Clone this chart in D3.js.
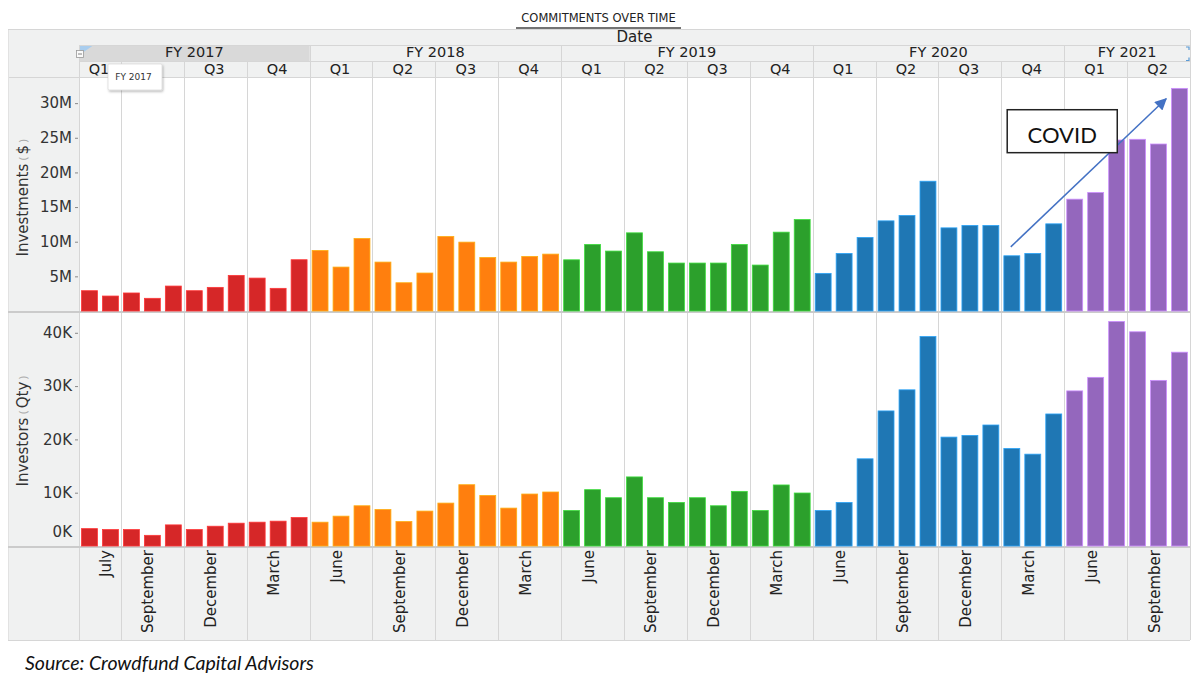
<!DOCTYPE html>
<html>
<head>
<meta charset="utf-8">
<script src="https://cdn.jsdelivr.net/npm/d3@7"></script>
<style>
  body { margin: 0; background: #fff; }
  svg { display: block; }
</style>
</head>
<body>
<svg id="chart" width="1200" height="681"></svg>
<script>
// ---------------- DATA ----------------
const months = [
  "June","July","August","September","October","November","December","January","February","March","April",
  "May","June","July","August","September","October","November","December","January","February","March","April",
  "May","June","July","August","September","October","November","December","January","February","March","April",
  "May","June","July","August","September","October","November","December","January","February","March","April",
  "May","June","July","August","September","October"
];
const fiscalYears = ["FY 2017", "FY 2018", "FY 2019", "FY 2020", "FY 2021"];
const fyMonthCounts = [11, 12, 12, 12, 6];
const quarterLabels = ["Q1","Q2","Q3","Q4","Q1","Q2","Q3","Q4","Q1","Q2","Q3","Q4","Q1","Q2","Q3","Q4","Q1","Q2"];
const quarterMonthCounts = [2,3,3,3, 3,3,3,3, 3,3,3,3, 3,3,3,3, 3,3];
const monthLabelIndex = [1,3,6,9,12,15,18,21,24,27,30,33,36,39,42,45,48,51];

// Investments in $ millions
const investments = [
  2.93, 2.16, 2.60, 1.83, 3.60, 2.93, 3.41, 5.14, 4.75, 3.27, 7.40,
  8.74, 6.34, 10.47, 7.06, 4.08, 5.48, 10.76, 9.94, 7.73, 7.06, 7.88, 8.21,
  7.39, 9.61, 8.65, 11.28, 8.55, 6.92, 6.92, 6.92, 9.61, 6.63, 11.38, 13.20,
  5.43, 8.31, 10.62, 13.01, 13.79, 18.73, 12.00, 12.35, 12.35, 7.97, 8.31, 12.58,
  16.14, 17.10, 24.68, 24.78, 24.10, 32.13
];
// Investors in thousands
const investors = [
  3.26, 3.08, 3.08, 2.00, 3.96, 3.08, 3.71, 4.28, 4.47, 4.66, 5.34,
  4.47, 5.60, 7.55, 6.85, 4.59, 6.55, 8.05, 11.50, 9.49, 7.11, 9.75, 10.13,
  6.66, 10.57, 9.06, 12.96, 9.06, 8.17, 9.06, 7.55, 10.25, 6.66, 11.45, 9.94,
  6.66, 8.17, 16.36, 25.34, 29.30, 39.30, 20.43, 20.75, 22.70, 18.30, 17.23, 24.77,
  29.10, 31.64, 42.13, 40.19, 31.07, 36.36
];
const investmentTicks = [5, 10, 15, 20, 25, 30];
const investorTicks = [0, 10, 20, 30, 40];
const fyColors = ["#d62728", "#ff7f0e", "#2ca02c", "#1f77b4", "#9467bd"];

// ---------------- SETUP ----------------
const FONT = "'DejaVu Sans', Verdana, sans-serif";
const svg = d3.select("#chart");
const n = months.length;
const L = 79, R = 1190, LEFT = 8;
const HDR_TOP = 29.5, HDR_FY = 45.5, HDR_Q = 61.5, PLOT_TOP = 77.5;
const TOP_BASE = 311, BOT_TOP = 312, BOT_BASE = 546, LABEL_BOTTOM = 640;

const x = d3.scaleBand().domain(d3.range(n)).range([L, R]).paddingInner(0.24).paddingOuter(0.12);
const xl = d3.scaleLinear().domain([0, n]).range([L, R]);
const yTop = d3.scaleLinear().domain([0, 33.7]).range([TOP_BASE, PLOT_TOP]);
const yBot = d3.scaleLinear().domain([0, 43.9]).range([BOT_BASE, BOT_TOP]);

const fyIndex = [];
fyMonthCounts.forEach((c, i) => { for (let k = 0; k < c; k++) fyIndex.push(i); });
const fyBounds = Array.from(d3.cumsum([0, ...fyMonthCounts]));
const qBounds = Array.from(d3.cumsum([0, ...quarterMonthCounts]));

const defs = svg.append("defs");
const f = defs.append("filter").attr("id", "shadow").attr("x", "-20%").attr("y", "-20%").attr("width", "150%").attr("height", "160%");
f.append("feDropShadow").attr("dx", 1).attr("dy", 1.5).attr("stdDeviation", 1.3).attr("flood-color", "#000").attr("flood-opacity", 0.28);
defs.append("marker").attr("id", "arrow").attr("viewBox", "0 0 10 10")
  .attr("refX", 9).attr("refY", 5).attr("markerWidth", 15).attr("markerHeight", 12)
  .attr("markerUnits", "userSpaceOnUse").attr("orient", "auto")
  .append("path").attr("d", "M0,0 L10,5 L0,10 z").attr("fill", "#4472c4");

// ---------------- BACKGROUNDS ----------------
const BG = "#f0f1f1", LINE = "#d6d6d6";
svg.append("rect").attr("x", LEFT).attr("y", HDR_TOP).attr("width", R - LEFT).attr("height", PLOT_TOP - HDR_TOP).attr("fill", BG);
svg.append("rect").attr("x", LEFT).attr("y", PLOT_TOP).attr("width", L - LEFT).attr("height", LABEL_BOTTOM - PLOT_TOP).attr("fill", BG);
svg.append("rect").attr("x", L).attr("y", BOT_BASE).attr("width", R - L).attr("height", LABEL_BOTTOM - BOT_BASE).attr("fill", BG);

// FY 2017 highlighted header cell
svg.append("rect").attr("x", xl(fyBounds[0])).attr("y", HDR_FY).attr("width", xl(fyBounds[1]) - xl(fyBounds[0]))
  .attr("height", HDR_Q - HDR_FY).attr("fill", "#d9d9d9");
svg.append("path").attr("d", `M${L},${HDR_FY} L${L + 14},${HDR_FY} L${L + 4},${HDR_FY + 7} L${L},${HDR_FY + 7}Z`).attr("fill", "#a9cdee");

// ---------------- GRID LINES ----------------
const g = svg.append("g").attr("stroke", LINE).attr("stroke-width", 1).attr("shape-rendering", "crispEdges");
const hline = (y, x0, x1, c, w) => g.append("line").attr("x1", x0).attr("x2", x1).attr("y1", y).attr("y2", y).attr("stroke", c || LINE).attr("stroke-width", w || 1);
const vline = (xx, y0, y1, c) => g.append("line").attr("x1", xx).attr("x2", xx).attr("y1", y0).attr("y2", y1).attr("stroke", c || LINE);
hline(HDR_TOP, LEFT, R);
hline(HDR_FY, L, R);
hline(HDR_Q, L, R);
hline(PLOT_TOP, LEFT, R);
hline(LABEL_BOTTOM, LEFT, R);
vline(LEFT, HDR_TOP, LABEL_BOTTOM, "#e2e2e2");
vline(L, HDR_FY, LABEL_BOTTOM);
vline(R, HDR_TOP, LABEL_BOTTOM);
fyBounds.slice(1, -1).forEach(b => vline(Math.round(xl(b)) + 0.5, HDR_FY, HDR_Q));
qBounds.slice(1, -1).forEach(b => vline(Math.round(xl(b)) + 0.5, HDR_Q, LABEL_BOTTOM));

// ---------------- BARS ----------------
const barStroke = i => d3.color(fyColors[fyIndex[i]]).brighter(0.9);
svg.append("g").selectAll("rect").data(investments).join("rect")
  .attr("x", (d, i) => x(i)).attr("width", x.bandwidth())
  .attr("y", d => yTop(d)).attr("height", d => yTop(0) - yTop(d))
  .attr("fill", (d, i) => fyColors[fyIndex[i]])
  .attr("stroke", (d, i) => barStroke(i)).attr("stroke-width", 0.8);
svg.append("g").selectAll("rect").data(investors).join("rect")
  .attr("x", (d, i) => x(i)).attr("width", x.bandwidth())
  .attr("y", d => yBot(d)).attr("height", d => yBot(0) - yBot(d))
  .attr("fill", (d, i) => fyColors[fyIndex[i]])
  .attr("stroke", (d, i) => barStroke(i)).attr("stroke-width", 0.8);

// panel separators
hline(TOP_BASE + 0.5, LEFT, R, "#cbcbcb", 2);
hline(BOT_BASE + 0.5, LEFT, R, "#cbcbcb", 2);

// ---------------- AXES ----------------
function styleAxis(sel) {
  sel.select(".domain").remove();
  sel.selectAll("text").attr("font-family", FONT).attr("font-size", 15).attr("fill", "#333");
  sel.selectAll(".tick line").attr("stroke", "#888");
}
const axTop = svg.append("g").attr("transform", `translate(${L - 1},0)`)
  .call(d3.axisLeft(yTop).tickValues(investmentTicks).tickFormat(d => d + "M").tickSize(3).tickPadding(3));
styleAxis(axTop);
const axBot = svg.append("g").attr("transform", `translate(${L - 1},0)`)
  .call(d3.axisLeft(yBot).tickValues(investorTicks).tickFormat(d => d + "K").tickSize(3).tickPadding(3));
styleAxis(axBot);
axBot.selectAll(".tick").filter(d => d === 0).each(function () {
  d3.select(this).select("line").remove();
  d3.select(this).select("text").attr("y", -14.5).attr("x", -6);
});

// axis titles
function axisTitle(yStart, main, unit) {
  const t = svg.append("text").attr("transform", `translate(27.5,${yStart}) rotate(-90)`)
    .attr("font-family", FONT).attr("font-size", 15).attr("fill", "#333");
  t.append("tspan").text(main);
  t.append("tspan").attr("font-size", 11).attr("fill", "#aaa").attr("dx", 3).attr("dy", -1).text("(");
  t.append("tspan").attr("dx", 2).attr("dy", 1).text(unit);
  t.append("tspan").attr("font-size", 11).attr("fill", "#aaa").attr("dx", 2).attr("dy", -1).text(")");
}
axisTitle(256.5, "Investments", "$");
axisTitle(486.5, "Investors", "Qty");

// ---------------- HEADERS ----------------
svg.append("text").attr("x", 598.5).attr("y", 22).attr("text-anchor", "middle")
  .attr("font-family", FONT).attr("font-size", 11.5).attr("fill", "#222").text("COMMITMENTS OVER TIME");
svg.append("line").attr("x1", 516).attr("x2", 681).attr("y1", 28).attr("y2", 28).attr("stroke", "#444").attr("stroke-width", 1.3);

svg.append("text").attr("x", (L + R) / 2).attr("y", 41.5).attr("text-anchor", "middle")
  .attr("font-family", FONT).attr("font-size", 15).attr("fill", "#222").text("Date");

svg.append("g").selectAll("text").data(fiscalYears).join("text")
  .attr("x", (d, i) => (xl(fyBounds[i]) + xl(fyBounds[i + 1])) / 2).attr("y", 57)
  .attr("text-anchor", "middle").attr("font-family", FONT).attr("font-size", 14.5).attr("fill", "#222").text(d => d);

svg.append("g").selectAll("text").data(quarterLabels).join("text")
  .attr("x", (d, i) => (xl(qBounds[i]) + xl(qBounds[i + 1])) / 2 - 1).attr("y", 73.5)
  .attr("text-anchor", "middle").attr("font-family", FONT).attr("font-size", 14.5).attr("fill", "#222").text(d => d);

// collapse icon
svg.append("rect").attr("x", 76.5).attr("y", 50.5).attr("width", 7).attr("height", 7).attr("fill", "#fafafa").attr("stroke", "#999").attr("stroke-width", 0.8);
svg.append("line").attr("x1", 78).attr("x2", 82).attr("y1", 54).attr("y2", 54).attr("stroke", "#666").attr("stroke-width", 0.8);
// selection corners on FY 2021 cell
svg.append("path").attr("d", `M${R - 4},${HDR_FY + 1.5} L${R - 1},${HDR_FY + 1.5} L${R - 1},${HDR_FY + 4.5} M${R - 4},${HDR_Q - 1} L${R - 1},${HDR_Q - 1} L${R - 1},${HDR_Q - 4}`)
  .attr("fill", "none").attr("stroke", "#5b9bd5").attr("stroke-width", 1.2);

// tooltip
svg.append("rect").attr("x", 108).attr("y", 64).attr("width", 54).attr("height", 26).attr("rx", 1)
  .attr("fill", "#fff").attr("stroke", "#d0d0d0").attr("stroke-width", 0.6).attr("filter", "url(#shadow)");
svg.append("text").attr("x", 133.5).attr("y", 80).attr("text-anchor", "middle")
  .attr("font-family", FONT).attr("font-size", 9).attr("fill", "#333").text("FY 2017");

// month labels
svg.append("g").selectAll("text").data(monthLabelIndex).join("text")
  .attr("transform", d => `translate(${x(d) + x.bandwidth() / 2 + 1},550) rotate(-90)`)
  .attr("text-anchor", "end").attr("font-family", FONT).attr("font-size", 15).attr("fill", "#222")
  .text(d => months[d]);

// ---------------- ANNOTATION ----------------
svg.append("line")
  .attr("x1", xl(44.45)).attr("y1", yTop(9.26)).attr("x2", xl(51.86)).attr("y2", yTop(30.63))
  .attr("stroke", "#4472c4").attr("stroke-width", 1.5).attr("marker-end", "url(#arrow)");
svg.append("rect").attr("x", xl(44.28)).attr("y", yTop(29.05))
  .attr("width", xl(49.53) - xl(44.28)).attr("height", yTop(22.85) - yTop(29.05))
  .attr("fill", "#fff").attr("stroke", "#222").attr("stroke-width", 1.5);
svg.append("text").attr("x", (xl(44.28) + xl(49.53)) / 2).attr("y", 143)
  .attr("text-anchor", "middle").attr("font-family", "Lato, 'Open Sans', sans-serif").attr("font-size", 22)
  .attr("fill", "#111").text("COVID");

// ---------------- SOURCE ----------------
svg.append("text").attr("x", 25).attr("y", 670)
  .attr("font-family", "Lato, 'Open Sans', sans-serif").attr("font-style", "italic").attr("font-size", 19.5)
  .attr("fill", "#111").text("Source: Crowdfund Capital Advisors");
</script>
</body>
</html>
